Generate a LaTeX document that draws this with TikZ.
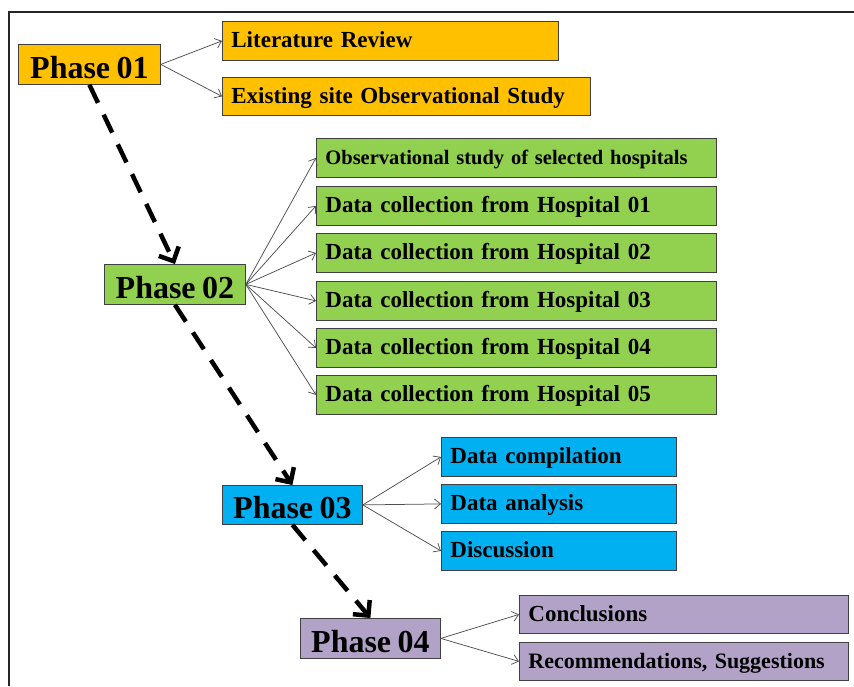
\documentclass[tikz,border=0pt]{standalone}
\usepackage{fontspec}
\setmainfont{Liberation Serif}[WordSpace=0.8]
\usetikzlibrary{arrows.meta}
\definecolor{cOrange}{HTML}{FFC000}
\definecolor{cGreen}{HTML}{92D050}
\definecolor{cBlue}{HTML}{00B0F0}
\definecolor{cPurple}{HTML}{B3A2C7}
\definecolor{boxline}{HTML}{404040}
\definecolor{arrowgray}{HTML}{505050}
\tikzset{
  phase/.style={draw=boxline, line width=0.8pt, anchor=north west, minimum height=40pt,
    inner xsep=0pt, inner ysep=0pt, font=\fontsize{32}{34}\selectfont\bfseries,
    text height=28pt, text depth=0pt},
  item/.style={draw=boxline, line width=0.8pt, anchor=north west, minimum height=39pt,
    inner xsep=9pt, inner ysep=0pt, font=\fontsize{23}{25}\selectfont\bfseries,
    text height=17pt, text depth=3pt, align=left},
  thinarrow/.style={draw=arrowgray, line width=0.75pt, -{Straight Barb[length=6pt,width=10pt]}},
  flow/.style={draw=black, line width=4.5pt, dash pattern=on 20pt off 13pt,
    -{Straight Barb[length=11pt,width=22pt]}}
}
\begin{document}
\begin{tikzpicture}[x=1pt,y=-1pt]
\useasboundingbox (0,0) rectangle (854,686);
\fill[white] (0,0) rectangle (854,686);
% frame
\draw[line width=2pt, draw=black!85] (9,686) -- (9,12) -- (854,12);

% Phase 01
\node[phase, fill=cOrange, minimum width=142pt] (p1) at (18,44) {Phase 01};
\node[item, fill=cOrange, text width=318pt] (lr) at (222,21) {Literature Review};
\node[item, fill=cOrange, text width=350pt, minimum height=38pt] (es) at (222,77) {Existing site Observational Study};

% Phase 02
\node[phase, fill=cGreen, minimum width=141pt] (p2) at (104,264) {Phase 02};
\node[item, fill=cGreen, text width=382pt, font=\fontsize{20.5}{22}\selectfont\bfseries] (os) at (316,138) {Observational study of selected hospitals};
\node[item, fill=cGreen, text width=382pt] (h1) at (316,186) {Data collection from Hospital 01};
\node[item, fill=cGreen, text width=382pt] (h2) at (316,233) {Data collection from Hospital 02};
\node[item, fill=cGreen, text width=382pt] (h3) at (316,281) {Data collection from Hospital 03};
\node[item, fill=cGreen, text width=382pt] (h4) at (316,328) {Data collection from Hospital 04};
\node[item, fill=cGreen, text width=382pt] (h5) at (316,375) {Data collection from Hospital 05};

% Phase 03
\node[phase, fill=cBlue, minimum width=140pt, minimum height=39pt] (p3) at (222,485) {Phase 03};
\node[item, fill=cBlue, text width=217pt] (dc) at (441,437) {Data compilation};
\node[item, fill=cBlue, text width=217pt] (da) at (441,484) {Data analysis};
\node[item, fill=cBlue, text width=217pt] (di) at (441,531) {Discussion};

% Phase 04
\node[phase, fill=cPurple, minimum width=140pt] (p4) at (300,618) {Phase 04};
\node[item, fill=cPurple, text width=311pt, minimum height=38pt] (co) at (519,595) {Conclusions};
\node[item, fill=cPurple, text width=311pt, minimum height=38pt, font=\fontsize{22}{24}\selectfont\bfseries] (re) at (519,642) {Recommendations, Suggestions};

% thin arrows
\foreach \t in {lr,es} \draw[thinarrow] (p1.east) -- (\t.west);
\foreach \t in {os,h1,h2,h3,h4,h5} \draw[thinarrow] (p2.east) -- (\t.west);
\foreach \t in {dc,da,di} \draw[thinarrow] (p3.east) -- (\t.west);
\foreach \t in {co,re} \draw[thinarrow] (p4.east) -- (\t.west);

% dashed flow arrows
\draw[flow] (p1.south) -- (p2.north);
\draw[flow] (p2.south) -- (p3.north);
\draw[flow] (p3.south) -- (p4.north);
\end{tikzpicture}
\end{document}
